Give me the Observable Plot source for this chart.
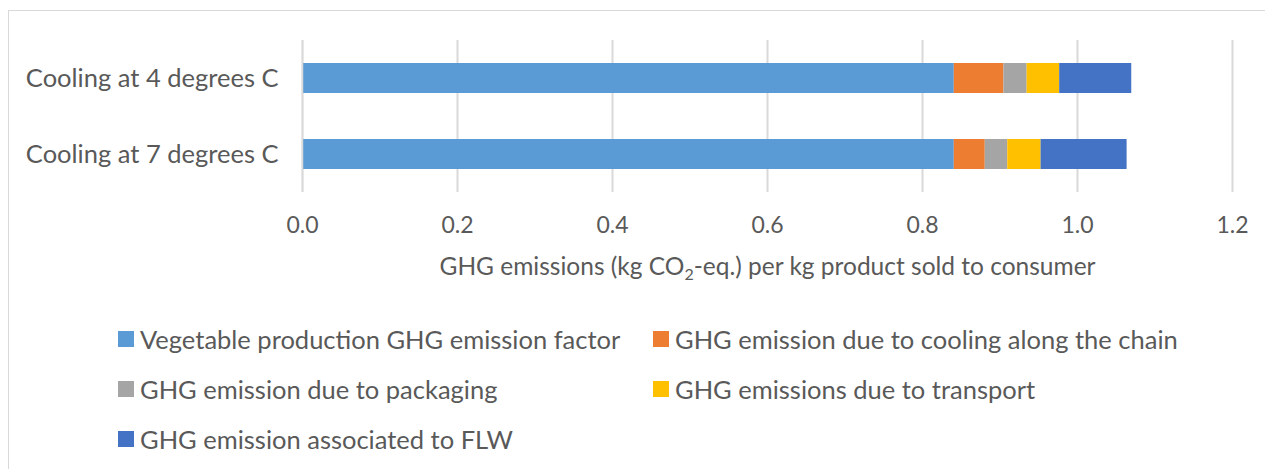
<!DOCTYPE html>
<html><head><meta charset="utf-8">
<script src="https://cdn.jsdelivr.net/npm/d3@7"></script>
<script src="https://cdn.jsdelivr.net/npm/@observablehq/plot@0.6"></script>
<style>
body{margin:0;background:#fff;font-family:Lato,"Open Sans",sans-serif;color:#595959;}
#frame{position:absolute;left:8px;top:10px;width:1270px;height:470px;border:1.5px solid #d9d9d9;box-sizing:border-box;}
#chart{position:absolute;left:0;top:0;}
#legend{position:absolute;left:0;top:0;width:1265px;}
.item{position:absolute;display:flex;align-items:center;font-size:25.5px;white-space:nowrap;}
.sw{width:16px;height:16px;margin-right:6px;flex:none;}
</style></head>
<body>
<div id="frame"></div>
<div id="chart"></div>
<div id="legend"></div>
<script>
const categories = ["Cooling at 4 degrees C", "Cooling at 7 degrees C"];
const seriesNames = [
  "Vegetable production GHG emission factor",
  "GHG emission due to cooling along the chain",
  "GHG emission due to packaging",
  "GHG emissions due to transport",
  "GHG emission associated to FLW"
];
const seriesColors = ["#5B9BD5", "#ED7D31", "#A5A5A5", "#FFC000", "#4472C4"];
const production = [0.841, 0.841];
const cooling = [0.064, 0.040];
const packaging = [0.030, 0.029];
const transport = [0.042, 0.043];
const flw = [0.093, 0.111];
const xTicks = [0, 0.2, 0.4, 0.6, 0.8, 1.0, 1.2];
const xLabelParts = ["GHG emissions (kg CO", "2", "-eq.) per kg product sold to consumer"];

const seriesValues = [production, cooling, packaging, transport, flw];
const rows = [];
seriesNames.forEach((s, si) => categories.forEach((c, ci) => rows.push({category: c, series: s, value: seriesValues[si][ci]})));

const plot = Plot.plot({
  width: 1265, height: 300,
  marginLeft: 302, marginRight: 33, marginTop: 40, marginBottom: 108,
  style: {fontFamily: "Lato, 'Open Sans', sans-serif", color: "#595959", background: "transparent"},
  x: {domain: [0, 1.2]},
  y: {domain: categories, padding: 0},
  color: {domain: seriesNames, range: seriesColors},
  marks: [
    Plot.ruleX(xTicks, {stroke: "#d9d9d9", strokeWidth: 2, strokeOpacity: 1}),
    Plot.barX(rows, Plot.stackX({x: "value", y: "category", fill: "series", insetTop: 23, insetBottom: 23})),
    Plot.axisX(xTicks, {tickSize: 0, tickPadding: 24, fontSize: 23, tickFormat: d3.format(".1f"),
      label: xLabelParts.join(""), labelAnchor: "center", labelArrow: "none", labelOffset: 82}),
    Plot.axisY({tickSize: 0, tickPadding: 24, fontSize: 25.5, label: null}),
    Plot.ruleX([0], {stroke: "#d9d9d9", strokeWidth: 1.5})
  ]
});
document.getElementById("chart").appendChild(plot);
// axis label: font size + subscript
plot.querySelectorAll("g[aria-label='x-axis label'] text").forEach(t => {
  t.setAttribute("font-size", 24.5);
  t.textContent = "";
  xLabelParts.forEach((p, i) => {
    const ts = document.createElementNS("http://www.w3.org/2000/svg", "tspan");
    ts.textContent = p;
    if (i === 1) { ts.setAttribute("font-size", 16); ts.setAttribute("dy", "5"); }
    if (i === 2) { ts.setAttribute("dy", "-5"); }
    t.appendChild(ts);
  });
});

const legend = document.getElementById("legend");
const pos = [[118, 339], [653, 339], [118, 389], [653, 389], [118, 439]];
seriesNames.forEach((s, i) => {
  const d = document.createElement("div");
  d.className = "item";
  d.style.left = pos[i][0] + "px";
  d.style.top = (pos[i][1] - 15) + "px";
  d.style.height = "30px";
  d.innerHTML = `<span class="sw" style="background:${seriesColors[i]}"></span><span></span>`;
  d.lastChild.textContent = s;
  legend.appendChild(d);
});
</script>
</body></html>
